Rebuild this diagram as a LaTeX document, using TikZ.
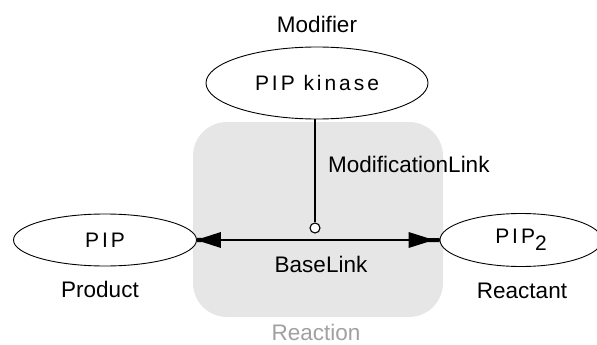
\documentclass[tikz,border=0pt]{standalone}
\usepackage{fontspec}
\setmainfont{Liberation Sans}
\newfontfamily\spacedfont[LetterSpace=14]{Liberation Sans}
\usetikzlibrary{shapes.geometric,calc}
\begin{document}
\begin{tikzpicture}[x=1pt,y=-1pt,
  lbl/.style={font=\fontsize{22.5}{26}\selectfont, inner sep=0pt},
  ent/.style={ellipse, draw=black, line width=0.9pt, fill=white, inner sep=0pt,
              font=\spacedfont\fontsize{21}{24}\selectfont},
  link/.style={line width=1.3pt, draw=black},
  head/.style={fill=black}
]
\useasboundingbox (0,0) rectangle (597,345);
\fill[fill={rgb,255:red,230;green,230;blue,230}, rounded corners=34pt] (193,122) rectangle (443,317);
\node[ent, minimum width=222pt, minimum height=72pt] (kin) at (317,83) {PIP kinase};
\node[ent, minimum width=183pt, minimum height=52pt] (pip) at (105,240) {PIP};
\node[ent, minimum width=162pt, minimum height=53pt] (pip2) at (521,240) {PIP\raisebox{-7pt}{2}};
\node[circle, draw=black, line width=1.1pt, fill=white, minimum size=10pt, inner sep=0pt] (mc) at (315,228) {};
\draw[link] (kin.south -| mc.north) -- (mc.north);
\draw[link] (pip.east) -- (pip2.west);
% left arrowhead (points to PIP)
\fill[head] ($(pip.east)+(24,-8)$) -- ($(pip.east)+(24,8)$) -- ($(pip.east)+(6,2.2)$)
  -- ($(pip.east)+(0,2.2)$) -- ($(pip.east)+(0,-2.2)$) -- ($(pip.east)+(6,-2.2)$) -- cycle;
% right arrowhead (points to PIP2)
\fill[head] ($(pip2.west)+(-31,-8)$) -- ($(pip2.west)+(-31,8)$) -- ($(pip2.west)+(-12,2)$)
  -- ($(pip2.west)+(0,2)$) -- ($(pip2.west)+(0,-2)$) -- ($(pip2.west)+(-12,-2)$) -- cycle;
\node[lbl] (mod) at (317,24) {Modifier};
\node[lbl, anchor=west] (ml) at (328,164) {ModificationLink};
\node[lbl] (bl) at (321,264) {BaseLink};
\node[lbl, text={rgb,255:red,160;green,160;blue,160}] (rx) at (316,332) {Reaction};
\node[lbl] (prod) at (100,289) {Product};
\node[lbl] (reac) at (522,291) {Reactant};
\end{tikzpicture}
\end{document}
